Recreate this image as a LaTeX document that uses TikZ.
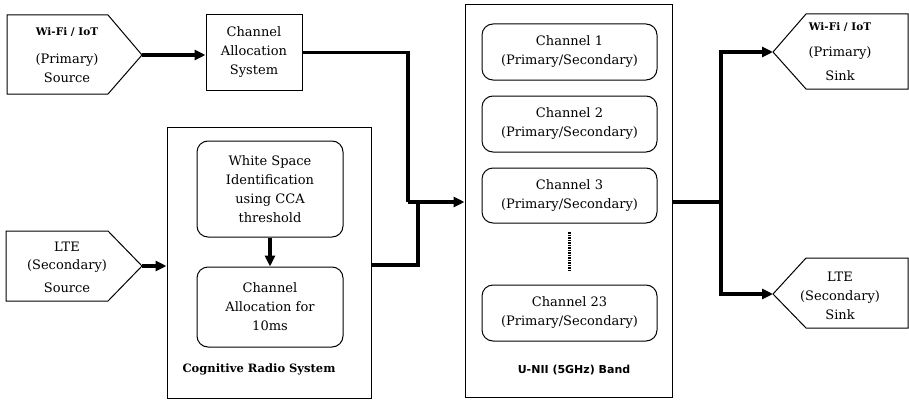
\documentclass[tikz,border=0pt]{standalone}
\usepackage{fontspec}
\setmainfont{DejaVu Serif}
\newfontfamily\lblsans{DejaVu Sans}
\usetikzlibrary{arrows.meta}
\begin{document}
\begin{tikzpicture}[x=1pt,y=-1pt,
  box/.style={draw,line width=1pt,inner sep=0pt,align=center,font=\fontsize{13}{19}\selectfont},
  rbox/.style={box,rounded corners=11pt},
  frame/.style={draw,line width=1pt},
  conn/.style={line width=3.2pt},
  arr/.style={conn,-{Triangle[length=11pt,width=10pt]}},
  txt/.style={inner sep=0pt,font=\fontsize{13}{19}\selectfont},
  small/.style={inner sep=0pt,font=\fontsize{10.5}{12}\selectfont\bfseries}]
\useasboundingbox (0,0) rectangle (909,404);

% Wi-Fi source
\draw[frame] (7,15) -- (108,15) -- (142,55) -- (108,94) -- (7,94) -- cycle;
\coordinate (wsrc) at (142,55);
\node[small] (wsrcA) at (67,32) {Wi-Fi / IoT};
\node[txt] (wsrcB) at (67,60) {(Primary)};
\node[txt] (wsrcC) at (67,78) {Source};

% LTE source
\draw[frame] (6,231) -- (108,231) -- (142,266) -- (108,301) -- (6,301) -- cycle;
\coordinate (lsrc) at (142,266);
\node[txt] (lsrcA) at (67,247) {LTE};
\node[txt] (lsrcB) at (67,266) {(Secondary)};
\node[txt] (lsrcC) at (67,288) {Source};

% Channel allocation system
\node[box,minimum width=96pt,minimum height=75pt] (cas) at (254,52.5) {Channel\\Allocation\\System};

% Cognitive radio system
\node[frame,minimum width=204pt,minimum height=271pt,inner sep=0pt] (crs) at (269,262.5) {};
\node[rbox,minimum width=146pt,minimum height=96pt] (ws) at (270,189) {White Space\\Identification\\using CCA\\threshold};
\node[rbox,minimum width=146pt,minimum height=80pt] (ca) at (270,307) {Channel\\Allocation for\\10ms};
\node[inner sep=0pt,font=\fontsize{11.5}{13}\selectfont\bfseries] (crsl) at (259,369) {Cognitive Radio System};

% U-NII band
\node[frame,minimum width=207pt,minimum height=392pt,inner sep=0pt] (unii) at (568.5,201) {};
\node[rbox,minimum width=175pt,minimum height=56pt] (ch1) at (569.5,52) {Channel 1\\(Primary/Secondary)};
\node[rbox,minimum width=175pt,minimum height=56pt] (ch2) at (569.5,124) {Channel 2\\(Primary/Secondary)};
\node[rbox,minimum width=175pt,minimum height=55pt] (ch3) at (569.5,195.5) {Channel 3\\(Primary/Secondary)};
\node[rbox,minimum width=175pt,minimum height=56pt] (ch23) at (569.5,313) {Channel 23\\(Primary/Secondary)};
\coordinate (dotA) at (569,232);
\coordinate (dotB) at (569,270);
\draw[line width=3pt,dash pattern=on 1.5pt off 1pt] (dotA) -- (dotB);
\node[inner sep=0pt,font=\lblsans\fontsize{11}{13}\selectfont\bfseries] (unil) at (574,370) {U-NII (5GHz) Band};

% Sinks
\draw[frame] (773,52) -- (806,14) -- (908,14) -- (908,89) -- (806,89) -- cycle;
\coordinate (wsnk) at (773,52);
\node[small] (wsnkA) at (840,27) {Wi-Fi / IoT};
\node[txt] (wsnkB) at (840,53) {(Primary)};
\node[txt] (wsnkC) at (840,76) {Sink};

\draw[frame] (773,294) -- (806,258) -- (908,258) -- (908,328) -- (806,328) -- cycle;
\coordinate (lsnk) at (773,294);
\node[txt] (lsnkA) at (840,277) {LTE};
\node[txt] (lsnkB) at (840,297) {(Secondary)};
\node[txt] (lsnkC) at (840,315) {Sink};

% Connectors
\coordinate (j1) at (408,202);
\coordinate (j2) at (418,202);
\coordinate (j3) at (721,202);
\draw[arr] (wsrc) -- (wsrc -| cas.west);
\draw[arr] (lsrc) -- (lsrc -| crs.west);
\draw[arr] (ws.south) -- (ca.north);
\draw[conn] (cas.east) -| (j1);
\draw[conn] (crs.east |- 0,265) -| (j2);
\draw[arr] (j1) -- (j1 -| unii.west);
\draw[conn] (j3 -| unii.east) -- (j3);
\draw[arr] (j3) |- (wsnk);
\draw[arr] (j3) |- (lsnk);
\end{tikzpicture}
\end{document}
